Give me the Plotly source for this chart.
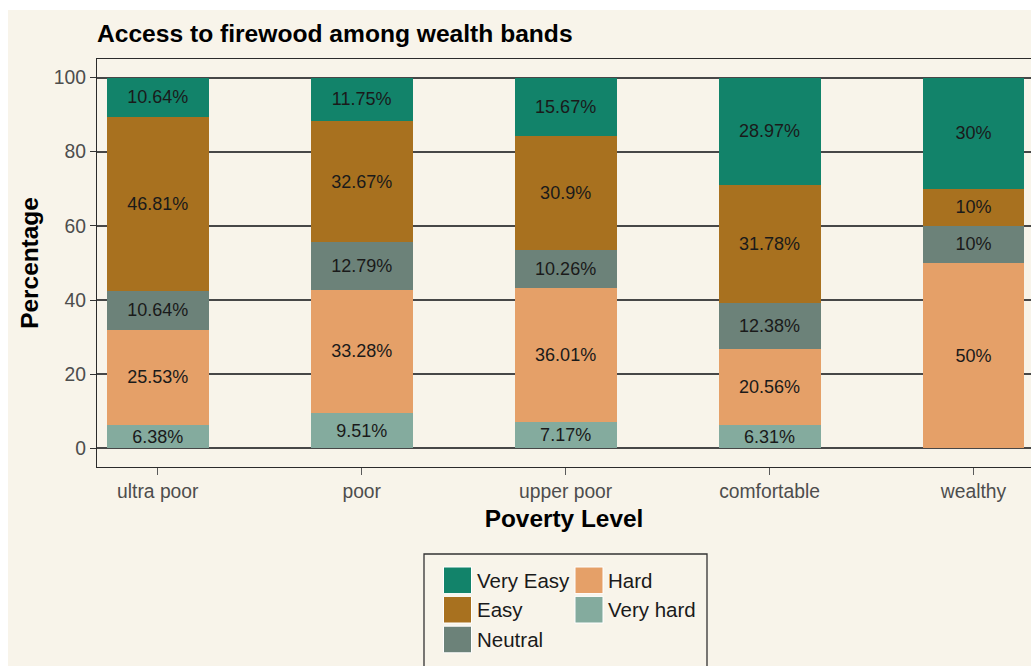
import plotly.graph_objects as go

# Firewood access shares (%) by wealth band
categories = ["ultra poor", "poor", "upper poor", "comfortable", "wealthy"]
very_easy = [10.64, 11.75, 15.67, 28.97, 30]
easy = [46.81, 32.67, 30.9, 31.78, 10]
neutral = [10.64, 12.79, 10.26, 12.38, 10]
hard = [25.53, 33.28, 36.01, 20.56, 50]
very_hard = [6.38, 9.51, 7.17, 6.31, None]
y_ticks = [0, 20, 40, 60, 80, 100]

# stacking order: bottom segment first
series_names = ["Very hard", "Hard", "Neutral", "Easy", "Very Easy"]
series_values = [very_hard, hard, neutral, easy, very_easy]
series_colors = ["#84ab9e", "#e5a068", "#6c8279", "#a8711f", "#12836a"]

FONT = "Liberation Sans, Arial, sans-serif"
BG = "#f8f4ea"
W, H = 1031, 666
ML, MR, MT, MB = 97, 0, 59, 199
PW, PH = W - ML - MR, H - MT - MB


def px(x):
    """pixel column -> paper x"""
    return (x - ML) / PW


def py(y):
    """pixel row -> paper y"""
    return (H - MB - y) / PH


fig = go.Figure()
for name, vals, color in zip(series_names, series_values, series_colors):
    fig.add_trace(go.Bar(
        name=name,
        x=categories,
        y=vals,
        marker=dict(color=color, line=dict(width=0)),
        text=["" if v is None else f"{v:g}%" for v in vals],
        textposition="inside",
        insidetextanchor="middle",
        textangle=0,
        constraintext="none",
        textfont=dict(family=FONT, size=18, color="#1a1a1a"),
        showlegend=False,
    ))

shapes = [
    # beige canvas
    dict(type="rect", xref="paper", yref="paper", layer="below",
         x0=px(8), x1=px(W + 5), y0=py(H + 5), y1=py(10),
         fillcolor=BG, line=dict(width=0)),
    # legend frame
    dict(type="rect", xref="paper", yref="paper",
         x0=px(424), x1=px(707), y0=py(H + 20), y1=py(554),
         fillcolor=BG, line=dict(color="#333333", width=1.3)),
]
annotations = []

# legend: reversed stack order, filled column by column (3 rows)
legend_names = series_names[::-1]
legend_colors = series_colors[::-1]
col_x = [443.5, 575]
row_y = [580.3, 609.7, 639.5]
for i, (name, color) in enumerate(zip(legend_names, legend_colors)):
    c, r = divmod(i, 3)
    x0, yc = col_x[c], row_y[r]
    shapes.append(dict(type="rect", xref="paper", yref="paper",
                       x0=px(x0), x1=px(x0 + 28), y0=py(yc + 13.3), y1=py(yc - 13.3),
                       fillcolor=color, line=dict(color="#ffffff", width=1)))
    annotations.append(dict(text=name, xref="paper", yref="paper",
                            x=px(x0 + 31), y=py(yc), xanchor="left", yanchor="middle",
                            showarrow=False,
                            font=dict(family=FONT, size=20.5, color="#1a1a1a")))

fig.update_layout(
    width=W, height=H, autosize=False,
    margin=dict(l=ML, r=MR, t=MT, b=MB, pad=0),
    paper_bgcolor="#ffffff",
    plot_bgcolor=BG,
    barmode="stack",
    bargap=0.5,
    font=dict(family=FONT, color="#1a1a1a"),
    title=dict(text="Access to firewood among wealth bands",
               xref="paper", x=0, xanchor="left",
               yref="container", y=1 - 33 / H, yanchor="middle",
               pad=dict(l=0, r=0, t=0, b=0),
               font=dict(family=FONT, size=24.6, weight="bold", color="#000000")),
    xaxis=dict(
        type="category",
        range=[-0.298, 4.282],
        showgrid=False, zeroline=False,
        showline=True, linecolor="#2b2b2b", linewidth=1.3, mirror=True,
        ticks="outside", ticklen=7, tickwidth=1.2, tickcolor="#5a5a5a",
        tickfont=dict(family=FONT, size=19.3, color="#4d4d4d"),
        title=dict(text="Poverty Level", standoff=8,
                   font=dict(family=FONT, size=24.4, weight="bold", color="#000000")),
    ),
    yaxis=dict(
        range=[-5, 105],
        tickvals=y_ticks,
        showgrid=True, gridcolor="#474747", gridwidth=1.6,
        zeroline=False,
        showline=True, linecolor="#2b2b2b", linewidth=1.3, mirror=False,
        ticks="outside", ticklen=6, tickwidth=1.2, tickcolor="#333333",
        tickfont=dict(family=FONT, size=19.3, color="#4d4d4d"),
        title=dict(text="Percentage", standoff=8,
                   font=dict(family=FONT, size=24.4, weight="bold", color="#000000")),
    ),
    shapes=shapes,
    annotations=annotations,
)

fig.write_html("out.html")
